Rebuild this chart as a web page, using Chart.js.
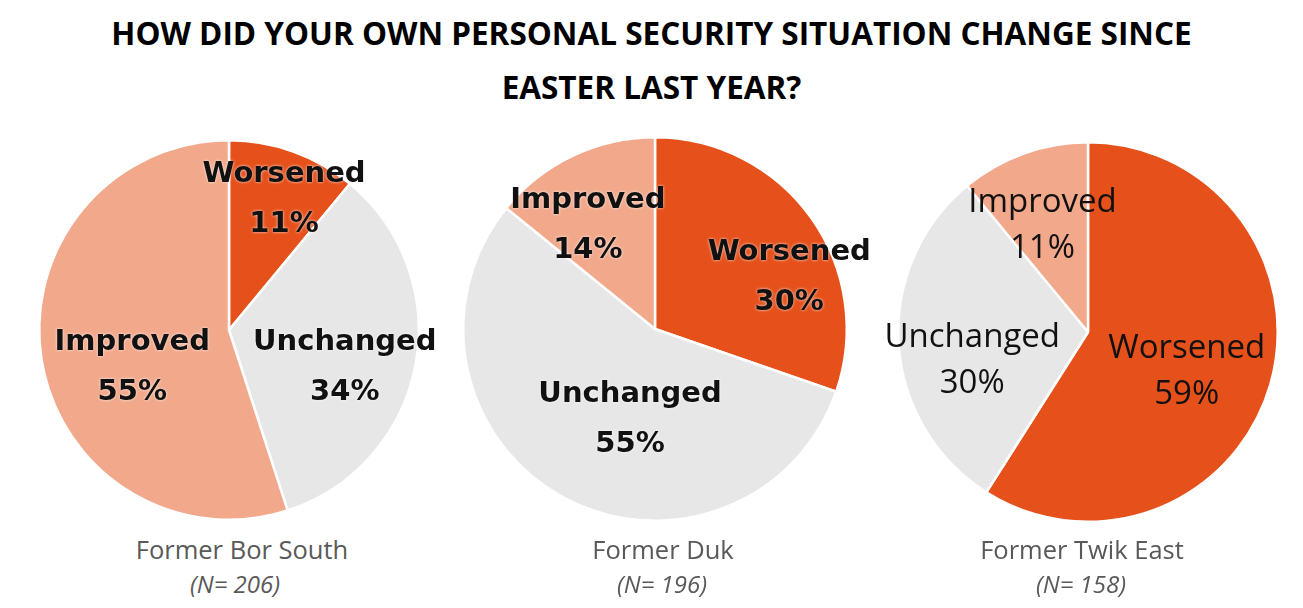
<!DOCTYPE html>
<html>
<head>
<meta charset="utf-8">
<script src="https://cdn.jsdelivr.net/npm/chart.js@4"></script>
<style>
  body { margin: 0; background: #fff; width: 1303px; height: 608px; overflow: hidden; position: relative; font-family: 'Open Sans', sans-serif; }
  .title { position: absolute; left: 0; width: 1303px; text-align: center; font-weight: bold; font-size: 31.5px; color: #000; line-height: 1; }
  canvas { position: absolute; }
  .cap { position: absolute; width: 320px; text-align: center; color: #595959; font-size: 25.5px; line-height: 1; }
  .cap i { font-size: 24px; }
</style>
</head>
<body>
<div class="title" id="t1" style="top:17px">HOW DID YOUR OWN PERSONAL SECURITY SITUATION CHANGE SINCE</div>
<div class="title" id="t2" style="top:71px">EASTER LAST YEAR?</div>

<canvas id="pie0" width="440" height="400" style="left:9px;top:130px"></canvas>
<canvas id="pie1" width="440" height="400" style="left:435px;top:129px"></canvas>
<canvas id="pie2" width="440" height="400" style="left:868px;top:132px"></canvas>

<div class="cap" style="left:82px;top:537px">Former Bor South</div>
<div class="cap" style="left:75px;top:571px"><i>(N= 206)</i></div>
<div class="cap" style="left:503px;top:537px">Former Duk</div>
<div class="cap" style="left:502px;top:571px"><i>(N= 196)</i></div>
<div class="cap" style="left:922px;top:537px">Former Twik East</div>
<div class="cap" style="left:921px;top:571px"><i>(N= 158)</i></div>

<script>
// data
const categories = ['Worsened', 'Unchanged', 'Improved'];
const regions = ['Former Bor South', 'Former Duk', 'Former Twik East'];
const sampleSizes = [206, 196, 158];
const borSouth = [11, 34, 55];
const duk = [30, 55, 14];
const twikEast = [59, 30, 11];

const sliceColors = ['#E5501B', '#E7E7E7', '#F2A88B'];

// label placement inside each pie (fraction of radius from centre), per slice
const labelSpots = [
    [[0.29, -0.69], [0.61, 0.20], [-0.51, 0.20]],
    [[0.70, -0.27], [-0.13, 0.47], [-0.35, -0.54]],
    [[0.52, 0.21], [-0.61, 0.15], [-0.24, -0.56]]
];
const labelFonts = [
    { font: 'bold 29px "DejaVu Sans"', gap: 50, glow: true },
    { font: 'bold 29px "DejaVu Sans"', gap: 50, glow: true },
    { font: '33px "Open Sans"', gap: 46, glow: false }
];

const sliceLabels = {
    id: 'sliceLabels',
    afterDatasetsDraw(chart, args, opts) {
        const ctx = chart.ctx;
        const meta = chart.getDatasetMeta(0);
        const vals = chart.data.datasets[0].data;
        ctx.save();
        ctx.font = opts.font;
        ctx.fillStyle = '#111';
        ctx.textAlign = 'center';
        ctx.textBaseline = 'middle';
        if (opts.glow) {
            ctx.shadowColor = 'rgba(255,255,255,0.9)';
            ctx.shadowBlur = 3;
        }
        meta.data.forEach((arc, i) => {
            const r = arc.outerRadius;
            const x = arc.x + opts.spots[i][0] * r;
            const y = arc.y + opts.spots[i][1] * r;
            ctx.fillText(chart.data.labels[i], x, y - opts.gap / 2);
            ctx.fillText(vals[i] + '%', x, y + opts.gap / 2);
        });
        ctx.restore();
    }
};

const pads = [
    { left: 29, right: 29, top: 9, bottom: 9 },
    { left: 27, right: 27, top: 7, bottom: 7 },
    { left: 29, right: 29, top: 9, bottom: 9 }
];

[borSouth, duk, twikEast].forEach((vals, k) => {
    new Chart(document.getElementById('pie' + k), {
        type: 'pie',
        data: {
            labels: categories,
            datasets: [{
                data: vals,
                backgroundColor: sliceColors,
                borderColor: '#fff',
                borderWidth: 2.5
            }]
        },
        options: {
            responsive: false,
            animation: false,
            layout: { padding: pads[k] },
            plugins: {
                legend: { display: false },
                tooltip: { enabled: false },
                sliceLabels: {
                    spots: labelSpots[k],
                    font: labelFonts[k].font,
                    gap: labelFonts[k].gap,
                    glow: labelFonts[k].glow
                }
            }
        },
        plugins: [sliceLabels]
    });
});
</script>
</body>
</html>
